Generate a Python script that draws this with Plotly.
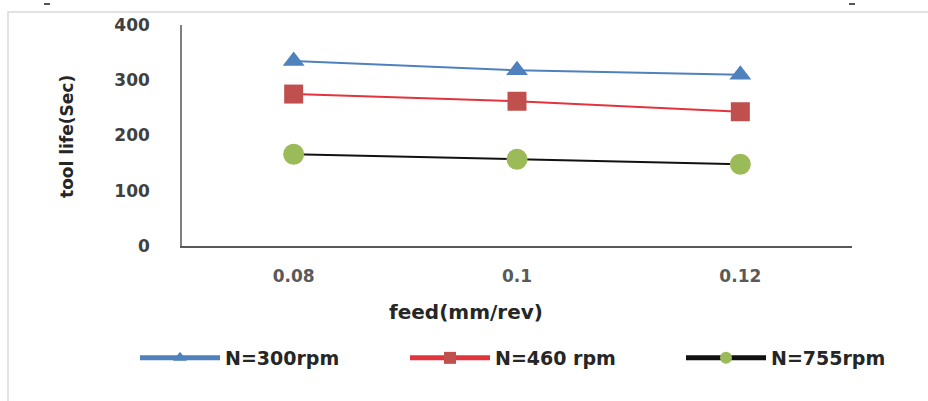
import plotly.graph_objects as go

# feed rates (mm/rev) and measured tool life (sec) for each spindle speed
feed = ["0.08", "0.1", "0.12"]
life_300 = [335, 318, 310]
life_460 = [275, 262, 243]
life_755 = [166, 157, 148]
series_names = ["N=300rpm", "N=460 rpm", "N=755rpm"]
y_ticks = [0, 100, 200, 300, 400]

W, H = 928, 401
L, R, T, B = 182, 76, 25, 155
pw, ph = W - L - R, H - T - B

FONT = "DejaVu Sans"

fig = go.Figure()
fig.add_trace(go.Scatter(
    x=feed, y=life_300, name=series_names[0], mode="lines+markers",
    line=dict(color="#4F81BD", width=2),
    marker=dict(symbol="triangle-up", size=19, color="#4F81BD"),
    legend="legend",
))
fig.add_trace(go.Scatter(
    x=feed, y=life_460, name=series_names[1], mode="lines+markers",
    line=dict(color="#E2343C", width=2),
    marker=dict(symbol="square", size=19, color="#C0504D"),
    legend="legend2",
))
fig.add_trace(go.Scatter(
    x=feed, y=life_755, name=series_names[2], mode="lines+markers",
    line=dict(color="#111111", width=2),
    marker=dict(symbol="circle", size=21, color="#9BBB59"),
    legend="legend3",
))

def px_x(px):
    return (px - L) / pw

def px_y(py):
    return (H - B - py) / ph

shapes = [
    # outer chart frame
    dict(type="rect", xref="paper", yref="paper",
         x0=px_x(8), x1=px_x(940), y0=px_y(412), y1=px_y(12),
         line=dict(color="#D9D9D9", width=1.5), fillcolor="rgba(0,0,0,0)", layer="below"),
    dict(type="line", xref="paper", yref="paper",
         x0=px_x(44), x1=px_x(50), y0=px_y(4), y1=px_y(4),
         line=dict(color="#555555", width=2)),
    dict(type="line", xref="paper", yref="paper",
         x0=px_x(849), x1=px_x(855), y0=px_y(4), y1=px_y(4),
         line=dict(color="#555555", width=2)),
]

annotations = [
    dict(text="<b>tool life(Sec)</b>", textangle=-90, xref="paper", yref="paper",
         x=px_x(67), y=px_y(137), xanchor="center", yanchor="middle", showarrow=False,
         font=dict(family=FONT, size=17, color="#262626")),
    dict(text="<b>feed(mm/rev)</b>", xref="paper", yref="paper",
         x=px_x(466), y=px_y(312), xanchor="center", yanchor="middle", showarrow=False,
         font=dict(family=FONT, size=20, color="#262626")),
]

def legend_at(left_px):
    return dict(
        orientation="h", xref="container", yref="container",
        x=left_px / W, y=(H - 358) / H, xanchor="left", yanchor="middle",
        itemwidth=80, itemsizing="constant",
        font=dict(family=FONT, size=19, color="#262626", weight="bold"),
        bgcolor="rgba(0,0,0,0)",
    )

fig.update_layout(
    width=W, height=H,
    margin=dict(l=L, r=R, t=T, b=B),
    paper_bgcolor="white", plot_bgcolor="white",
    showlegend=True,
    legend=legend_at(135),
    legend2=legend_at(405),
    legend3=legend_at(681),
    xaxis=dict(
        type="category", range=[-0.5, 2.5], showline=True, linecolor="#595959", linewidth=1.5,
        showgrid=False, zeroline=False, ticks="",
        ticklabelstandoff=14,
        tickfont=dict(family=FONT, size=17, color="#595959", weight="bold"),
    ),
    yaxis=dict(
        range=[0, 400], tickvals=y_ticks, showline=True, linecolor="#7F7F7F", linewidth=1.5,
        showgrid=False, zeroline=False, ticks="",
        ticklabelstandoff=27,
        tickfont=dict(family=FONT, size=17, color="#404040", weight="bold"),
    ),
    shapes=shapes,
    annotations=annotations,
)

fig.write_html("out.html")
